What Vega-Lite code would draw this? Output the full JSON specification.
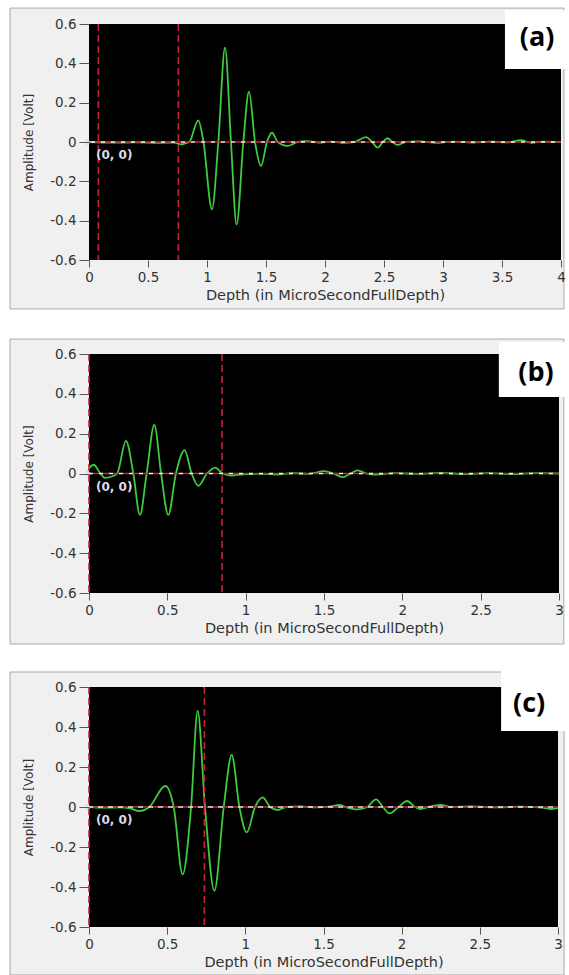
{
  "$schema": "https://vega.github.io/schema/vega-lite/v6.json",
  "background": "white",
  "padding": {"left": 9, "top": 7, "right": 0, "bottom": 0},
  "autosize": {"type": "pad"},
  "bounds": "flush",
  "spacing": 94,
  "config": {
    "view": {"stroke": null},
    "axis": {"labelFont": "DejaVu Sans", "labelFontSize": 13.5, "labelColor": "#333333", "titleFont": "DejaVu Sans", "titleColor": "#333333", "titleFontWeight": "normal", "tickColor": "#555555", "domain": false, "grid": false, "labelFlush": false, "labelOverlap": false, "tickCount": 12},
    "axisX": {"tickSize": 7, "labelPadding": 3, "titleFontSize": 14.5, "titlePadding": 5},
    "axisY": {"tickSize": 10, "labelPadding": 3, "titleFontSize": 12, "titlePadding": 14}
  },
  "datasets": {
    "one": [{"k": 1}],
    "waveA": [
      {"depth": 0.0, "amp": 0.0}, {"depth": 0.2, "amp": -0.003}, {"depth": 0.4, "amp": -0.002}, {"depth": 0.6, "amp": -0.004}, {"depth": 0.72, "amp": -0.003}, {"depth": 0.78, "amp": -0.012}, {"depth": 0.82, "amp": -0.006}, {"depth": 0.85, "amp": 0.0}, {"depth": 0.926, "amp": 0.11}, {"depth": 0.97, "amp": 0.0}, {"depth": 1.042, "amp": -0.342}, {"depth": 1.096, "amp": 0.0}, {"depth": 1.153, "amp": 0.48}, {"depth": 1.203, "amp": 0.0}, {"depth": 1.251, "amp": -0.42}, {"depth": 1.308, "amp": 0.0}, {"depth": 1.356, "amp": 0.256}, {"depth": 1.407, "amp": 0.0}, {"depth": 1.458, "amp": -0.122}, {"depth": 1.508, "amp": 0.0}, {"depth": 1.551, "amp": 0.047}, {"depth": 1.599, "amp": 0.0}, {"depth": 1.683, "amp": -0.02}, {"depth": 1.768, "amp": 0.0}, {"depth": 1.85, "amp": 0.004}, {"depth": 1.95, "amp": -0.003}, {"depth": 2.05, "amp": 0.002}, {"depth": 2.15, "amp": -0.004}, {"depth": 2.25, "amp": 0.0}, {"depth": 2.347, "amp": 0.025}, {"depth": 2.4, "amp": 0.0}, {"depth": 2.447, "amp": -0.029}, {"depth": 2.49, "amp": 0.0}, {"depth": 2.53, "amp": 0.019}, {"depth": 2.57, "amp": 0.0}, {"depth": 2.616, "amp": -0.015}, {"depth": 2.68, "amp": 0.0}, {"depth": 2.8, "amp": 0.003}, {"depth": 2.95, "amp": -0.004}, {"depth": 3.1, "amp": 0.002}, {"depth": 3.25, "amp": -0.003}, {"depth": 3.4, "amp": 0.002}, {"depth": 3.55, "amp": -0.002}, {"depth": 3.66, "amp": 0.009}, {"depth": 3.75, "amp": -0.004}, {"depth": 3.85, "amp": 0.002}, {"depth": 4.0, "amp": 0.0}
    ],
    "waveB": [
      {"depth": 0.0, "amp": 0.025}, {"depth": 0.03, "amp": 0.044}, {"depth": 0.072, "amp": 0.0}, {"depth": 0.1, "amp": -0.022}, {"depth": 0.15, "amp": -0.014}, {"depth": 0.18, "amp": 0.0}, {"depth": 0.236, "amp": 0.164}, {"depth": 0.283, "amp": 0.0}, {"depth": 0.325, "amp": -0.208}, {"depth": 0.368, "amp": 0.0}, {"depth": 0.417, "amp": 0.244}, {"depth": 0.46, "amp": 0.0}, {"depth": 0.506, "amp": -0.208}, {"depth": 0.555, "amp": 0.0}, {"depth": 0.61, "amp": 0.117}, {"depth": 0.655, "amp": 0.0}, {"depth": 0.698, "amp": -0.062}, {"depth": 0.753, "amp": 0.0}, {"depth": 0.806, "amp": 0.03}, {"depth": 0.853, "amp": 0.0}, {"depth": 0.906, "amp": -0.01}, {"depth": 0.98, "amp": -0.004}, {"depth": 1.1, "amp": -0.002}, {"depth": 1.2, "amp": -0.005}, {"depth": 1.3, "amp": 0.002}, {"depth": 1.4, "amp": -0.002}, {"depth": 1.5, "amp": 0.012}, {"depth": 1.56, "amp": 0.0}, {"depth": 1.619, "amp": -0.018}, {"depth": 1.67, "amp": 0.0}, {"depth": 1.715, "amp": 0.016}, {"depth": 1.77, "amp": 0.0}, {"depth": 1.83, "amp": -0.006}, {"depth": 1.95, "amp": 0.002}, {"depth": 2.1, "amp": -0.002}, {"depth": 2.25, "amp": 0.003}, {"depth": 2.4, "amp": -0.003}, {"depth": 2.55, "amp": 0.002}, {"depth": 2.7, "amp": -0.003}, {"depth": 2.85, "amp": 0.002}, {"depth": 3.0, "amp": 0.0}
    ],
    "waveC": [
      {"depth": 0.0, "amp": 0.0}, {"depth": 0.1, "amp": -0.003}, {"depth": 0.2, "amp": -0.002}, {"depth": 0.26, "amp": -0.006}, {"depth": 0.322, "amp": -0.02}, {"depth": 0.386, "amp": 0.0}, {"depth": 0.488, "amp": 0.105}, {"depth": 0.542, "amp": 0.0}, {"depth": 0.599, "amp": -0.337}, {"depth": 0.653, "amp": 0.0}, {"depth": 0.695, "amp": 0.48}, {"depth": 0.742, "amp": 0.0}, {"depth": 0.802, "amp": -0.418}, {"depth": 0.862, "amp": 0.0}, {"depth": 0.913, "amp": 0.26}, {"depth": 0.962, "amp": 0.0}, {"depth": 1.009, "amp": -0.127}, {"depth": 1.062, "amp": 0.0}, {"depth": 1.111, "amp": 0.048}, {"depth": 1.158, "amp": 0.0}, {"depth": 1.207, "amp": -0.015}, {"depth": 1.26, "amp": 0.0}, {"depth": 1.35, "amp": 0.003}, {"depth": 1.45, "amp": -0.002}, {"depth": 1.55, "amp": 0.003}, {"depth": 1.6, "amp": 0.01}, {"depth": 1.65, "amp": -0.002}, {"depth": 1.719, "amp": -0.012}, {"depth": 1.78, "amp": 0.0}, {"depth": 1.836, "amp": 0.038}, {"depth": 1.88, "amp": 0.0}, {"depth": 1.921, "amp": -0.032}, {"depth": 1.98, "amp": 0.0}, {"depth": 2.035, "amp": 0.03}, {"depth": 2.08, "amp": 0.003}, {"depth": 2.12, "amp": -0.01}, {"depth": 2.17, "amp": 0.0}, {"depth": 2.25, "amp": 0.01}, {"depth": 2.32, "amp": 0.0}, {"depth": 2.45, "amp": 0.003}, {"depth": 2.6, "amp": -0.002}, {"depth": 2.75, "amp": 0.002}, {"depth": 2.9, "amp": -0.003}, {"depth": 2.96, "amp": -0.01}, {"depth": 3.0, "amp": -0.006}
    ],
    "cursA": [{"depth": 0.079}, {"depth": 0.757}],
    "cursB": [{"depth": 0.0}, {"depth": 0.849}],
    "cursC": [{"depth": 0.0}, {"depth": 0.738}]
  },
  "vconcat": [
    {
      "width": 472, "height": 236,
      "layer": [
        {"data": {"name": "one"}, "mark": {"type": "rect", "fill": "#f0f0f0", "stroke": "#a8a8a8", "strokeWidth": 1},
         "encoding": {
           "x": {"datum": -0.669, "type": "quantitative", "scale": {"domain": [0, 4], "nice": false, "zero": false}, "axis": {"title": "Depth (in MicroSecondFullDepth)", "zindex": 2, "tickCount": 12, "values": [0, 0.5, 1, 1.5, 2, 2.5, 3, 3.5, 4], "labelExpr": "format(datum.value, '.1~f')"}},
           "x2": {"datum": 4.025},
           "y": {"datum": 0.681, "type": "quantitative", "scale": {"domain": [-0.6, 0.6], "nice": false, "zero": false}, "axis": {"title": "Amplitude [Volt]", "zindex": 2, "tickCount": 12, "values": [-0.6, -0.4, -0.2, 0, 0.2, 0.4, 0.6], "labelExpr": "datum.value < 0 ? '-' + format(-datum.value, '.1~f') : format(datum.value, '.1~f')"}},
           "y2": {"datum": -0.849}}},
        {"data": {"name": "one"}, "mark": {"type": "rect", "fill": "#000000"},
         "encoding": {"x": {"datum": 0, "type": "quantitative"}, "x2": {"datum": 4}, "y": {"datum": -0.6, "type": "quantitative"}, "y2": {"datum": 0.6}}},
        {"data": {"name": "waveA"}, "mark": {"type": "line", "color": "#3ccc3c", "strokeWidth": 1.8, "interpolate": "monotone"},
         "encoding": {"x": {"field": "depth", "type": "quantitative"}, "y": {"field": "amp", "type": "quantitative"}}},
        {"data": {"name": "one"}, "mark": {"type": "rule", "color": "#cc2038", "strokeWidth": 1.6, "strokeDash": [6, 4]}, "encoding": {"y": {"datum": 0, "type": "quantitative"}}},
        {"data": {"name": "one"}, "mark": {"type": "rule", "color": "#f0f0e8", "strokeWidth": 1.4, "strokeDash": [4, 6], "strokeDashOffset": 4}, "encoding": {"y": {"datum": 0, "type": "quantitative"}}},
        {"data": {"name": "cursA"}, "mark": {"type": "rule", "color": "#c81e3c", "strokeWidth": 1.6, "strokeDash": [7, 4]},
         "encoding": {"x": {"field": "depth", "type": "quantitative"}}},
        {"data": {"name": "one"}, "mark": {"type": "point", "shape": "triangle-right", "size": 30, "filled": false, "stroke": "#c8c8c8", "strokeWidth": 1}, "encoding": {"x": {"datum": 0, "type": "quantitative"}, "y": {"datum": 0, "type": "quantitative"}}},
        {"data": {"name": "one"}, "mark": {"type": "text", "text": "(0, 0)", "font": "DejaVu Sans", "fontSize": 12, "fontWeight": "bold", "color": "#dcdce4", "align": "left", "baseline": "middle", "dx": 7, "dy": 13}, "encoding": {"x": {"datum": 0, "type": "quantitative"}, "y": {"datum": 0, "type": "quantitative"}}},
        {"data": {"name": "one"}, "mark": {"type": "rect", "fill": "#ffffff"}, "encoding": {"x": {"datum": 3.525, "type": "quantitative"}, "x2": {"datum": 4.07}, "y": {"datum": 0.67, "type": "quantitative"}, "y2": {"datum": 0.371}}},
        {"data": {"name": "one"}, "mark": {"type": "text", "text": "(a)", "font": "Open Sans", "fontSize": 27, "fontWeight": "bold", "color": "#000000", "align": "center", "baseline": "middle"}, "encoding": {"x": {"datum": 3.797, "type": "quantitative"}, "y": {"datum": 0.531, "type": "quantitative"}}}
      ]
    },
    {
      "width": 470, "height": 239,
      "layer": [
        {"data": {"name": "one"}, "mark": {"type": "rect", "fill": "#f0f0f0", "stroke": "#a8a8a8", "strokeWidth": 1},
         "encoding": {
           "x": {"datum": -0.504, "type": "quantitative", "scale": {"domain": [0, 3], "nice": false, "zero": false}, "axis": {"title": "Depth (in MicroSecondFullDepth)", "zindex": 2, "tickCount": 12, "values": [0, 0.5, 1, 1.5, 2, 2.5, 3], "labelExpr": "format(datum.value, '.1~f')"}},
           "x2": {"datum": 3.031},
           "y": {"datum": 0.675, "type": "quantitative", "scale": {"domain": [-0.6, 0.6], "nice": false, "zero": false}, "axis": {"title": "Amplitude [Volt]", "zindex": 2, "tickCount": 12, "values": [-0.6, -0.4, -0.2, 0, 0.2, 0.4, 0.6], "labelExpr": "datum.value < 0 ? '-' + format(-datum.value, '.1~f') : format(datum.value, '.1~f')"}},
           "y2": {"datum": -0.856}}},
        {"data": {"name": "one"}, "mark": {"type": "rect", "fill": "#000000"},
         "encoding": {"x": {"datum": 0, "type": "quantitative"}, "x2": {"datum": 3}, "y": {"datum": -0.6, "type": "quantitative"}, "y2": {"datum": 0.6}}},
        {"data": {"name": "waveB"}, "mark": {"type": "line", "color": "#3ccc3c", "strokeWidth": 1.8, "interpolate": "monotone"},
         "encoding": {"x": {"field": "depth", "type": "quantitative"}, "y": {"field": "amp", "type": "quantitative"}}},
        {"data": {"name": "one"}, "mark": {"type": "rule", "color": "#cc2038", "strokeWidth": 1.6, "strokeDash": [6, 4]}, "encoding": {"y": {"datum": 0, "type": "quantitative"}}},
        {"data": {"name": "one"}, "mark": {"type": "rule", "color": "#f0f0e8", "strokeWidth": 1.4, "strokeDash": [4, 6], "strokeDashOffset": 4}, "encoding": {"y": {"datum": 0, "type": "quantitative"}}},
        {"data": {"name": "cursB"}, "mark": {"type": "rule", "color": "#c81e3c", "strokeWidth": 1.6, "strokeDash": [7, 4]},
         "encoding": {"x": {"field": "depth", "type": "quantitative"}}},
        {"data": {"name": "one"}, "mark": {"type": "point", "shape": "triangle-right", "size": 30, "filled": false, "stroke": "#c8c8c8", "strokeWidth": 1}, "encoding": {"x": {"datum": 0, "type": "quantitative"}, "y": {"datum": 0, "type": "quantitative"}}},
        {"data": {"name": "one"}, "mark": {"type": "text", "text": "(0, 0)", "font": "DejaVu Sans", "fontSize": 12, "fontWeight": "bold", "color": "#dcdce4", "align": "left", "baseline": "middle", "dx": 7, "dy": 13}, "encoding": {"x": {"datum": 0, "type": "quantitative"}, "y": {"datum": 0, "type": "quantitative"}}},
        {"data": {"name": "one"}, "mark": {"type": "rect", "fill": "#ffffff"}, "encoding": {"x": {"datum": 2.616, "type": "quantitative"}, "x2": {"datum": 3.07}, "y": {"datum": 0.66, "type": "quantitative"}, "y2": {"datum": 0.384}}},
        {"data": {"name": "one"}, "mark": {"type": "text", "text": "(b)", "font": "Open Sans", "fontSize": 27, "fontWeight": "bold", "color": "#000000", "align": "center", "baseline": "middle"}, "encoding": {"x": {"datum": 2.853, "type": "quantitative"}, "y": {"datum": 0.505, "type": "quantitative"}}}
      ]
    },
    {
      "width": 469, "height": 240,
      "layer": [
        {"data": {"name": "one"}, "mark": {"type": "rect", "fill": "#f0f0f0", "stroke": "#a8a8a8", "strokeWidth": 1},
         "encoding": {
           "x": {"datum": -0.505, "type": "quantitative", "scale": {"domain": [0, 3], "nice": false, "zero": false}, "axis": {"title": "Depth (in MicroSecondFullDepth)", "zindex": 2, "tickCount": 12, "values": [0, 0.5, 1, 1.5, 2, 2.5, 3], "labelExpr": "format(datum.value, '.1~f')"}},
           "x2": {"datum": 3.039},
           "y": {"datum": 0.675, "type": "quantitative", "scale": {"domain": [-0.6, 0.6], "nice": false, "zero": false}, "axis": {"title": "Amplitude [Volt]", "zindex": 2, "tickCount": 12, "values": [-0.6, -0.4, -0.2, 0, 0.2, 0.4, 0.6], "labelExpr": "datum.value < 0 ? '-' + format(-datum.value, '.1~f') : format(datum.value, '.1~f')"}},
           "y2": {"datum": -0.84}}},
        {"data": {"name": "one"}, "mark": {"type": "rect", "fill": "#000000"},
         "encoding": {"x": {"datum": 0, "type": "quantitative"}, "x2": {"datum": 3}, "y": {"datum": -0.6, "type": "quantitative"}, "y2": {"datum": 0.6}}},
        {"data": {"name": "waveC"}, "mark": {"type": "line", "color": "#3ccc3c", "strokeWidth": 1.8, "interpolate": "monotone"},
         "encoding": {"x": {"field": "depth", "type": "quantitative"}, "y": {"field": "amp", "type": "quantitative"}}},
        {"data": {"name": "one"}, "mark": {"type": "rule", "color": "#cc2038", "strokeWidth": 1.6, "strokeDash": [6, 4]}, "encoding": {"y": {"datum": 0, "type": "quantitative"}}},
        {"data": {"name": "one"}, "mark": {"type": "rule", "color": "#f4e4e4", "strokeWidth": 1.4, "strokeDash": [5, 5], "strokeDashOffset": 5}, "encoding": {"y": {"datum": 0, "type": "quantitative"}}},
        {"data": {"name": "cursC"}, "mark": {"type": "rule", "color": "#c81e3c", "strokeWidth": 1.6, "strokeDash": [7, 4]},
         "encoding": {"x": {"field": "depth", "type": "quantitative"}}},
        {"data": {"name": "one"}, "mark": {"type": "point", "shape": "triangle-right", "size": 30, "filled": false, "stroke": "#c8c8c8", "strokeWidth": 1}, "encoding": {"x": {"datum": 0, "type": "quantitative"}, "y": {"datum": 0, "type": "quantitative"}}},
        {"data": {"name": "one"}, "mark": {"type": "text", "text": "(0, 0)", "font": "DejaVu Sans", "fontSize": 12, "fontWeight": "bold", "color": "#dcdce4", "align": "left", "baseline": "middle", "dx": 7, "dy": 13}, "encoding": {"x": {"datum": 0, "type": "quantitative"}, "y": {"datum": 0, "type": "quantitative"}}},
        {"data": {"name": "one"}, "mark": {"type": "rect", "fill": "#ffffff"}, "encoding": {"x": {"datum": 2.636, "type": "quantitative"}, "x2": {"datum": 3.077}, "y": {"datum": 0.7, "type": "quantitative"}, "y2": {"datum": 0.38}}},
        {"data": {"name": "one"}, "mark": {"type": "text", "text": "(c)", "font": "Open Sans", "fontSize": 27, "fontWeight": "bold", "color": "#000000", "align": "center", "baseline": "middle"}, "encoding": {"x": {"datum": 2.815, "type": "quantitative"}, "y": {"datum": 0.515, "type": "quantitative"}}}
      ]
    }
  ]
}
